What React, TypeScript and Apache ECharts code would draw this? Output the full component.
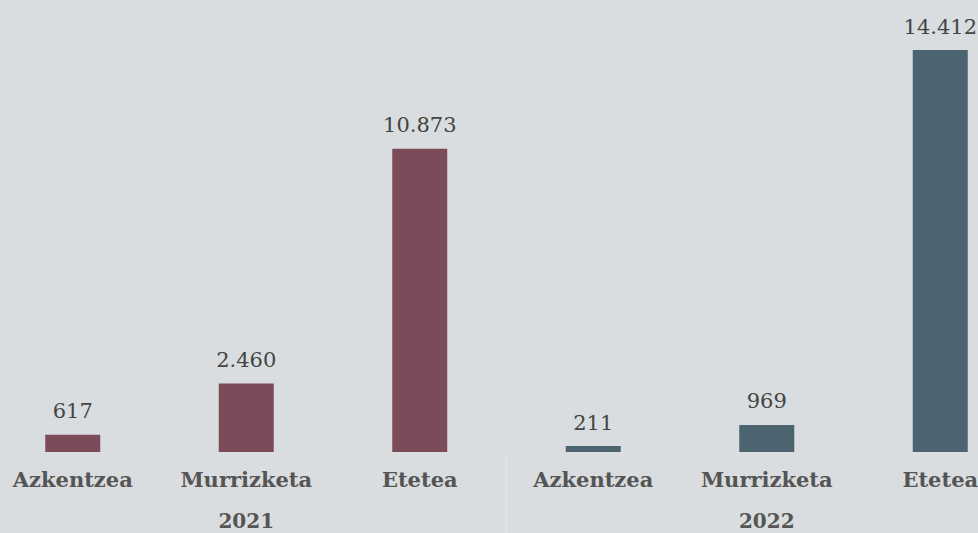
import React, { useEffect, useRef } from "react";
import * as echarts from "echarts";

const categories = ["Azkentzea", "Murrizketa", "Etetea", "Azkentzea", "Murrizketa", "Etetea"];
const years = ["2021", "2022"];
const values2021 = [617, 2460, 10873];
const values2022 = [211, 969, 14412];
const colors = { y2021: "#7c4b59", y2022: "#4b6470" };

export default function App() {
  const ref = useRef<HTMLDivElement>(null);
  useEffect(() => {
    const chart = echarts.init(ref.current!, null, { renderer: "svg" });
    const fmt = (v: number) => v.toLocaleString("de-DE");
    const data = [
      ...values2021.map((v) => ({ value: v, itemStyle: { color: colors.y2021 } })),
      ...values2022.map((v) => ({ value: v, itemStyle: { color: colors.y2022 } })),
    ];
    chart.setOption({
      animation: false,
      backgroundColor: "#dadddf",
      textStyle: { fontFamily: "DejaVu Serif" },
      grid: { left: 0, right: 0, top: 50, bottom: 81 },
      xAxis: [
        {
          type: "category",
          data: categories,
          position: "bottom",
          axisLine: { show: true, lineStyle: { color: "#e4dfdf", width: 1 } },
          axisTick: { show: false },
          axisLabel: { color: "#555555", fontSize: 21, fontWeight: "bold", margin: 17, fontFamily: "DejaVu Serif" },
        },
        {
          type: "category",
          data: years,
          position: "bottom",
          axisLine: { show: false },
          axisTick: { show: true, length: 82, lineStyle: { color: "#e4e4e4", width: 1 } },
          axisLabel: { color: "#555555", fontSize: 20, fontWeight: "bold", margin: 59, fontFamily: "DejaVu Serif" },
        },
      ],
      yAxis: { type: "value", min: 0, max: 14412, show: false, splitLine: { show: false } },
      series: [
        {
          type: "bar",
          xAxisIndex: 0,
          data,
          barWidth: 55,
          label: {
            show: true,
            position: "top",
            distance: 13,
            color: "#444444",
            fontSize: 21,
            fontFamily: "DejaVu Serif",
            formatter: (p: any) => fmt(p.value),
          },
        },
      ],
    });
    return () => chart.dispose();
  }, []);
  return (
    <div style={{ position: "fixed", left: 0, top: 0, width: 978, height: 533, overflow: "hidden", background: "#dadddf" }}>
      <div ref={ref} style={{ position: "absolute", left: -14, top: 0, width: 1041, height: 533 }} />
    </div>
  );
}
